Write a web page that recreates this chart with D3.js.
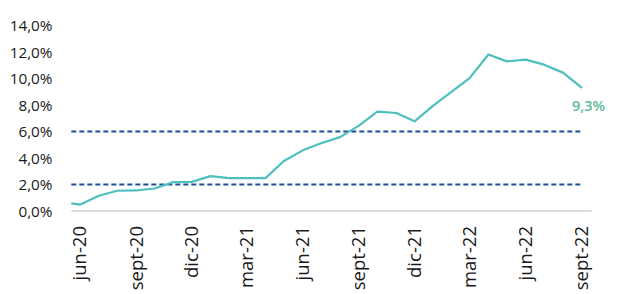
<!DOCTYPE html>
<html>
<head>
<meta charset="utf-8">
<script src="https://cdn.jsdelivr.net/npm/d3@7"></script>
<style>
  html, body { margin: 0; padding: 0; background: #fff; }
  svg { display: block; font-family: "Open Sans", sans-serif; }
</style>
</head>
<body>
<svg id="chart" width="622" height="294"></svg>
<script>
// ---- data ----
const dates = [
  "2020-06-01", "2020-06-15", "2020-07-15", "2020-08-15", "2020-09-15", "2020-10-15", "2020-11-15",
  "2020-12-15", "2021-01-15", "2021-02-15", "2021-03-15", "2021-04-15", "2021-05-15",
  "2021-06-15", "2021-07-15", "2021-08-15", "2021-09-15", "2021-10-15", "2021-11-15",
  "2021-12-15", "2022-01-15", "2022-02-15", "2022-03-15", "2022-04-15", "2022-05-15",
  "2022-06-15", "2022-07-15", "2022-08-15", "2022-09-15"
];
const inflation = [
  0.58, 0.48, 1.13, 1.53, 1.55, 1.70, 2.18,
  2.20, 2.63, 2.48, 2.48, 2.48, 3.78,
  4.58, 5.12, 5.58, 6.45, 7.50, 7.40,
  6.77, 7.97, 9.06, 10.03, 11.82, 11.30,
  11.43, 11.05, 10.45, 9.30
];
const targetLow = 2;
const targetHigh = 6;
const tickDates = ["2020-06-15", "2020-09-15", "2020-12-15", "2021-03-15", "2021-06-15",
                   "2021-09-15", "2021-12-15", "2022-03-15", "2022-06-15", "2022-09-15"];
const tickLabels = ["jun-20", "sept-20", "dic-20", "mar-21", "jun-21",
                    "sept-21", "dic-21", "mar-22", "jun-22", "sept-22"];
const yTicks = [0, 2, 4, 6, 8, 10, 12, 14];
const lastLabel = "9,3%";

// ---- chart ----
const parse = d3.timeParse("%Y-%m-%d");
const svg = d3.select("#chart");

const x = d3.scaleTime()
  .domain([parse("2020-06-01"), parse("2022-10-01")])
  .range([71.3, 591.7]);
const y = d3.scaleLinear().domain([0, 14]).range([211, 25.6]);

const fmt = v => d3.format(".1f")(v).replace(".", ",") + "%";

// y axis labels
svg.append("g")
  .selectAll("text")
  .data(yTicks)
  .join("text")
  .attr("x", 52.5)
  .attr("y", d => y(d))
  .attr("dy", "0.36em")
  .attr("text-anchor", "end")
  .attr("font-size", 15.3)
  .attr("fill", "#1a1a1a")
  .text(fmt);

// x axis baseline
svg.append("line")
  .attr("x1", x.range()[0]).attr("x2", x.range()[1])
  .attr("y1", y(0)).attr("y2", y(0))
  .attr("stroke", "#d0d0d0").attr("stroke-width", 1.5);

// x tick labels
svg.append("g")
  .selectAll("text")
  .data(tickDates)
  .join("text")
  .attr("transform", d => `translate(${x(parse(d))},226) rotate(-90)`)
  .attr("dy", "0.35em")
  .attr("text-anchor", "end")
  .attr("font-size", 18.5)
  .attr("fill", "#1a1a1a")
  .text((d, i) => tickLabels[i]);

const pts = dates.map((d, i) => ({ date: parse(d), value: inflation[i] }));
const first = pts[0].date, last = pts[pts.length - 1].date;

// target band lines
[targetLow, targetHigh].forEach(v => {
  svg.append("line")
    .attr("x1", x(first)).attr("x2", x(last))
    .attr("y1", y(v)).attr("y2", y(v))
    .attr("stroke", "#1f4e96")
    .attr("stroke-width", 2)
    .attr("stroke-dasharray", "5,3");
});

// inflation line
svg.append("path")
  .datum(pts)
  .attr("fill", "none")
  .attr("stroke", "#4dbfbf")
  .attr("stroke-width", 2.2)
  .attr("stroke-linejoin", "round")
  .attr("d", d3.line().x(d => x(d.date)).y(d => y(d.value)));

// end label
const lp = pts[pts.length - 1];
svg.append("text")
  .attr("x", x(lp.date) + 6.5)
  .attr("y", y(lp.value) + 23)
  .attr("text-anchor", "middle")
  .attr("font-size", 14.5)
  .attr("font-weight", 600)
  .attr("fill", "#5cbb99")
  .text(lastLabel);
</script>
</body>
</html>
